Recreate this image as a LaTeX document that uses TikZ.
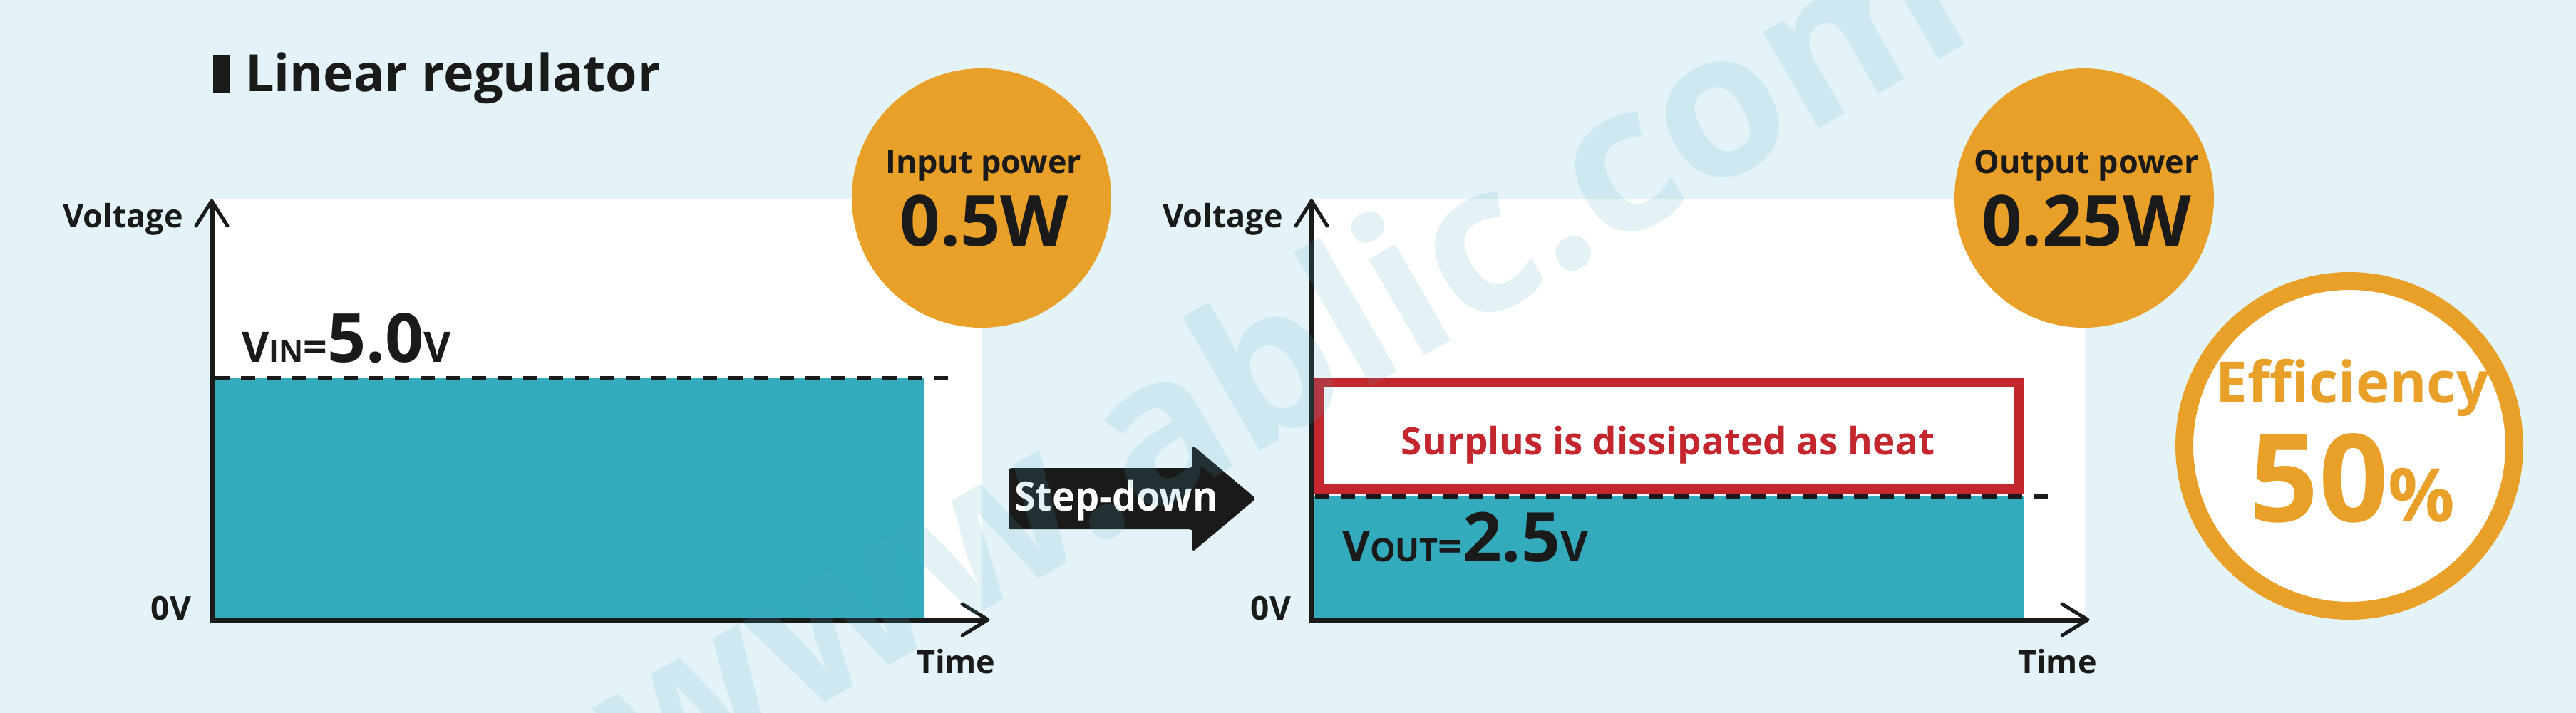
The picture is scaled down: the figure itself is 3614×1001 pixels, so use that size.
\documentclass[tikz,border=0pt]{standalone}
\usepackage{fontspec}
\setmainfont{Open Sans}
\definecolor{bgc}{RGB}{228,243,248}
\definecolor{tealc}{RGB}{52,171,189}
\definecolor{orangec}{RGB}{233,160,40}
\definecolor{redc}{RGB}{196,38,46}
\definecolor{inkc}{RGB}{26,26,26}
\definecolor{wmc}{RGB}{80,170,195}
\newcommand{\myfs}[1]{\fontsize{#1}{#1}\selectfont}
\tikzset{
  lbl/.style={inner sep=0pt, outer sep=0pt, font=\bfseries, text=inkc},
  axisline/.style={draw=inkc, line width=7pt},
  chev/.style={draw=inkc, line width=5pt, line cap=round, line join=round},
  dashline/.style={draw=inkc, line width=6pt, dash pattern=on 20pt off 16pt},
  powercircle/.style={circle, fill=orangec, minimum size=364pt, inner sep=0pt},
}
\begin{document}
\begin{tikzpicture}[x=1pt,y=-1pt]
\useasboundingbox (0,0) rectangle (3614,1001);
\fill[bgc] (0,0) rectangle (3614,1001);

% title
\fill[inkc] (299,77) rectangle (323,131);
\node[lbl, anchor=base west] (title) at (344,128) {\myfs{72}Linear regulator};

% ---------- plot 1 ----------
\fill[white] (297,279) rectangle (1378,870);
\fill[tealc] (297,531) rectangle (1297,870);
\draw[dashline] (302,531) -- (1339,531);
\draw[axisline] (297,283) -- (297,870) -- (1384,870);
\draw[chev] (275,317) -- (297,282) -- (319,317);
\draw[chev] (1350,848) -- (1386,870) -- (1350,892);
\node[lbl, anchor=base east] (v1) at (257,319) {\myfs{45}Voltage};
\node[lbl, anchor=base east] (z1) at (268,870) {\myfs{46}0V};
\node[lbl, anchor=base west] (t1) at (1286,945) {\myfs{45}Time};
\node[lbl, anchor=base west] (vin) at (339,508) {\myfs{59}V\myfs{42}IN\myfs{59}=\myfs{95}5.0\myfs{59}V};

\node[powercircle] (inp) at (1377,278) {};
\node[lbl, anchor=base] (inpt) at (1380,243) {\myfs{45}Input power};
\node[lbl, anchor=base] (inpv) at (1381,345) {\myfs{99}0.5W};

% step-down arrow
\fill[inkc, rounded corners=4pt] (1415,657) -- (1673,657) -- (1673,625) -- (1762,700) -- (1673,775) -- (1673,743) -- (1415,743) -- cycle;
\node[lbl, anchor=base west, text=white, xscale=0.95] (step) at (1423,717) {\myfs{57}Step-down};

% ---------- plot 2 ----------
\fill[white] (1840,279) rectangle (2925,870);
\fill[tealc] (1840,696) rectangle (2840,870);
\draw[redc, line width=14pt] (1850,537) rectangle (2833,687);
\draw[dashline] (1845,697) -- (2880,697);
\node[lbl, anchor=base, text=redc] (heat) at (2340,638) {\myfs{53}Surplus is dissipated as heat};
\draw[axisline] (1840,283) -- (1840,870) -- (2927,870);
\draw[chev] (1818,317) -- (1840,282) -- (1862,317);
\draw[chev] (2893,848) -- (2929,870) -- (2893,892);
\node[lbl, anchor=base east] (v2) at (1800,319) {\myfs{45}Voltage};
\node[lbl, anchor=base east] (z2) at (1811,870) {\myfs{46}0V};
\node[lbl, anchor=base west] (t2) at (2831,945) {\myfs{45}Time};
\node[lbl, anchor=base west] (vout) at (1883,788) {\myfs{60}V\myfs{45}OUT\myfs{60}=\myfs{96}2.5\myfs{60}V};

\node[powercircle] (outp) at (2924,278) {};
\node[lbl, anchor=base] (outpt) at (2927,243) {\myfs{45}Output power};
\node[lbl, anchor=base] (outpv) at (2927,345) {\myfs{99}0.25W};

% efficiency
\draw[orangec, line width=25pt, fill=white] (3296,626) circle (231.5pt);
\node[lbl, anchor=base, text=orangec] (eff) at (3300,565) {\myfs{80}Efficiency};
\node[lbl, anchor=base, text=orangec] (effv) at (3300,732) {\myfs{171}50\myfs{104}\%};

% watermark
\node[lbl, anchor=base west, rotate=30, text=wmc, text opacity=0.15] (wm) at (905,1131) {\myfs{285}www.ablic.com};
\end{tikzpicture}
\end{document}
